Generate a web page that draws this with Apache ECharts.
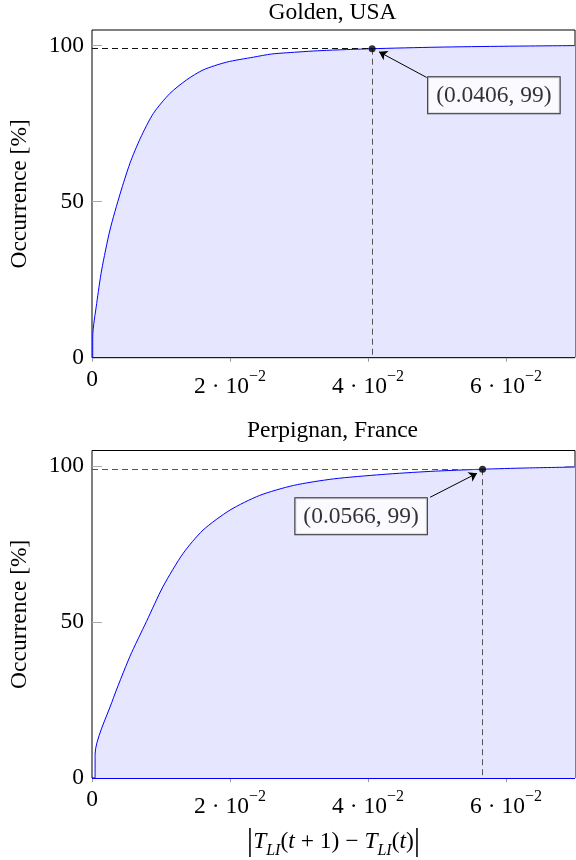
<!DOCTYPE html>
<html><head><meta charset="utf-8">
<script src="https://cdn.jsdelivr.net/npm/echarts@6/dist/echarts.min.js"></script>
<style>html,body{margin:0;padding:0;background:#fff}#c{width:576px;height:860px}</style>
</head><body><div id="c"></div>
<script>
// ---- data ----
const titles = ['Golden, USA', 'Perpignan, France'];
const goldenX = [0.0001, 0.0001, 0.00068, 0.0014, 0.0026, 0.0041, 0.0055, 0.0070, 0.0089, 0.0113, 0.0137, 0.0161, 0.0195, 0.0234, 0.0260, 0.0282, 0.0332, 0.0406, 0.050, 0.060, 0.070];
const goldenY = [0, 6.7, 17.4, 28.1, 40.9, 52.7, 62.3, 70.3, 78.3, 84.7, 89.0, 92.2, 94.7, 96.3, 97.3, 97.7, 98.4, 99.0, 99.5, 99.8, 100];
const perpX = [0.00045, 0.00045, 0.00286, 0.0055, 0.0079, 0.0103, 0.0132, 0.0161, 0.0200, 0.0243, 0.0292, 0.0350, 0.0420, 0.0490, 0.0566, 0.0630, 0.0700];
const perpY = [0, 7.7, 24.2, 39.0, 50.2, 61.4, 72.0, 79.5, 85.9, 90.6, 93.8, 95.9, 97.3, 98.3, 99.0, 99.4, 99.7];
const xTicks = [0, 0.02, 0.04, 0.06];
const xTickMantissa = ['0', '2', '4', '6'];
const xTickExponent = '−2';
const yTicks = [0, 50, 100];
const markerX = [0.0406, 0.0566];
const markerY = [99, 99];
const markerLabels = ['(0.0406, 99)', '(0.0566, 99)'];
const arrowFrom = [[0.0485, 89.8], [0.0490, 90.0]];
const arrowTo = [[0.0416, 98.0], [0.0558, 97.7]];
const yName = 'Occurrence [%]';

// ---- styling ----
const FONT = 'Liberation Serif';
const FS = 23.5;
const grids = [
  {left: 90, top: 30, width: 485, height: 327.7},
  {left: 90, top: 450.5, width: 485, height: 328.5}
];
const labelPos = [[59.5, 32.1], [-183.7, 32.5]];
const hDashColor = ['#111', '#555'];

function zip(xs, ys) { return xs.map((x, i) => [x, ys[i]]); }

const xLabelRich = {
  z: {fontFamily: FONT, fontSize: FS, lineHeight: 22, color: '#000'},
  b: {fontFamily: FONT, fontSize: FS, lineHeight: 30, color: '#000', verticalAlign: 'bottom'},
  s: {fontFamily: FONT, fontSize: 16, lineHeight: 19, color: '#000', verticalAlign: 'top'}
};

const xNameRich = {
  bar: {fontFamily: FONT, fontSize: 32, lineHeight: 34, color: '#000'},
  n: {fontFamily: FONT, fontSize: FS, lineHeight: 34, color: '#000'},
  i: {fontFamily: FONT, fontSize: FS, lineHeight: 34, color: '#000', fontStyle: 'italic'},
  sub: {fontFamily: FONT, fontSize: 16, lineHeight: 16, color: '#000', fontStyle: 'italic', verticalAlign: 'bottom'}
};

const option = {
  animation: false,
  backgroundColor: '#fff',
  title: titles.map((t, k) => ({
    text: t, left: grids[k].left + grids[k].width / 2, top: k === 0 ? 1 : 419,
    textAlign: 'center', padding: 0,
    textStyle: {fontFamily: FONT, fontSize: FS, fontWeight: 'normal', color: '#000'}
  })),
  grid: grids.map(g => Object.assign({show: true, borderColor: '#000', borderWidth: 1, backgroundColor: 'transparent'}, g)),
  xAxis: [0, 1].map(k => ({
    type: 'value', gridIndex: k, min: 0, max: 0.07, interval: 0.02,
    splitLine: {show: false},
    axisLine: {show: false},
    axisTick: {show: true, inside: false, length: 4, lineStyle: {color: '#999'}, customValues: xTicks},
    axisLabel: {
      color: '#000', fontFamily: FONT, fontSize: FS, margin: 11, verticalAlign: 'top',
      customValues: xTicks,
      formatter: v => {
        const idx = xTicks.findIndex(t => Math.abs(t - v) < 1e-9);
        if (idx < 0) return '';
        if (idx === 0) return '{z|' + xTickMantissa[0] + '}';
        return '{b|' + xTickMantissa[idx] + ' · 10}{s|' + xTickExponent + '}';
      },
      rich: xLabelRich
    },
    name: k === 1 ? '{bar||}{i|T}{sub|LI}{n|(}{i|t}{n| + 1) − }{i|T}{sub|LI}{n|(}{i|t}{n|)}{bar||}' : '',
    nameLocation: 'middle', nameGap: 47,
    nameTextStyle: {rich: xNameRich, fontFamily: FONT, fontSize: FS, color: '#000'}
  })),
  yAxis: [0, 1].flatMap(k => [
    {
      type: 'value', gridIndex: k, min: 0, max: 105, interval: 50, position: 'left',
      splitLine: {show: false}, axisLine: {show: false},
      axisTick: {show: true, inside: true, length: 10, lineStyle: {color: '#aaa'}, customValues: yTicks},
      axisLabel: {color: '#000', fontFamily: FONT, fontSize: FS, margin: 8, customValues: yTicks,
        formatter: v => (yTicks.indexOf(v) >= 0 ? String(v) : '')},
      name: yName, nameLocation: 'middle', nameRotate: 90, nameGap: 60,
      nameTextStyle: {fontFamily: FONT, fontSize: FS, color: '#000'}
    },
    {
      type: 'value', gridIndex: k, min: 0, max: 105, interval: 50, position: 'right',
      splitLine: {show: false}, axisLine: {show: false},
      axisTick: {show: true, inside: true, length: 10, lineStyle: {color: '#aaa'}, customValues: yTicks},
      axisLabel: {show: false}
    }
  ]),
  series: [0, 1].flatMap(k => {
    const xs = k === 0 ? goldenX : perpX;
    const ys = k === 0 ? goldenY : perpY;
    const mx = markerX[k], my = markerY[k];
    return [
      {
        type: 'line', xAxisIndex: k, yAxisIndex: 2 * k, data: zip(xs, ys),
        showSymbol: false, symbol: 'none', smooth: 0.25, z: 2,
        lineStyle: {color: '#0000ff', width: 1},
        areaStyle: {color: '#e6e6ff', opacity: 1},
        markLine: {
          silent: true, symbol: 'none', label: {show: false}, animation: false,
          data: [
            {yAxis: 0, lineStyle: {color: '#0000ff', width: 1.2, type: 'solid'}},
            [{coord: [0, my], lineStyle: {color: hDashColor[k], width: 1, type: [6, 4]}}, {coord: [mx, my]}],
            [{coord: [mx, my], lineStyle: {color: '#555', width: 1, type: [6, 4]}}, {coord: [mx, 0]}]
          ]
        }
      },
      {
        type: 'scatter', xAxisIndex: k, yAxisIndex: 2 * k, data: [[mx, my]],
        symbol: 'circle', symbolSize: 7, itemStyle: {color: '#000'}, z: 5,
        label: {
          show: true, position: labelPos[k], formatter: markerLabels[k],
          fontFamily: FONT, fontSize: FS, lineHeight: 23, color: '#000',
          backgroundColor: '#fff', borderColor: '#000', borderWidth: 1, padding: [7, 8, 6, 8]
        },
        markLine: {
          silent: true, symbol: ['none', 'arrow'], symbolSize: 8, label: {show: false}, animation: false,
          lineStyle: {color: '#000', width: 1, type: 'solid'},
          data: [[{coord: arrowFrom[k]}, {coord: arrowTo[k]}]]
        }
      }
    ];
  })
};

const chart = echarts.init(document.getElementById('c'), null, {renderer: 'canvas'});
chart.setOption(option);
</script>
</body></html>
